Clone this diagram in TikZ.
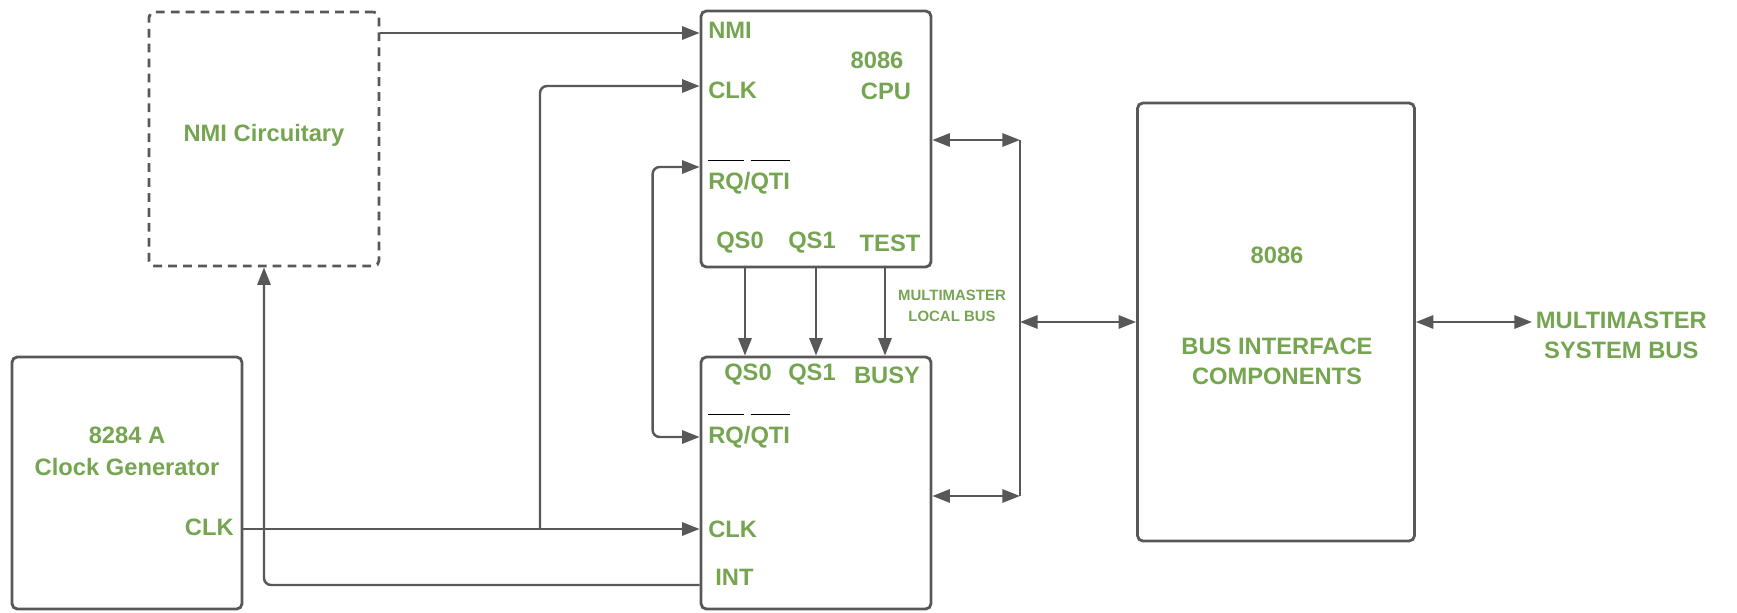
\documentclass[tikz,border=0pt]{standalone}
\usepackage{fontspec}
\setmainfont{Liberation Sans}
\usetikzlibrary{arrows.meta,positioning}
\definecolor{linegray}{HTML}{585858}
\definecolor{sig}{HTML}{76A552}
% active-low signal: black bar over the name
\newcommand{\ovsig}[1]{\setbox0=\hbox{#1}\rlap{\smash{\color{black}\rule[16pt]{\wd0}{.6pt}}}\box0}
\tikzset{>={Triangle[length=10pt,width=7.5pt]},
  every node/.style={font=\fontsize{13.5}{17}\selectfont\bfseries,text=sig},
  block/.style={draw=linegray,line width=1.6pt,rounded corners=3pt,minimum width=4.6cm},
  dashblock/.style={block,dash pattern=on 5pt off 3.5pt},
  link/.style={draw=linegray,line width=1.4pt},
  pinlbl/.style={inner sep=0pt},
  smalllbl/.style={font=\fontsize{8.5}{12}\selectfont\bfseries}}

\begin{document}
\begin{tikzpicture}[x=.02cm,y=-.02cm]
\useasboundingbox (0,0) rectangle (1737,612);
% blocks
\node[dashblock,minimum height=5.08cm] (nmi) at (264,139) {};
\node[block,minimum height=5.12cm] (cpu) at (816,139) {};
\node[block,minimum height=5.04cm] (cop) at (816,483) {};
\node[block,minimum height=5.04cm] (clkgen) at (127,483) {};
\node[block,minimum width=5.54cm,minimum height=8.76cm] (bic) at (1276,322) {};

% texts
\node (nmitxt) at (264,135) {NMI Circuitary};
\node[pinlbl,anchor=west] (cpunmi) at (708,30) {NMI};
\node (cpunum) at (877,60) {8086};
\node (cpuname) at (886,91) {CPU};
\node[pinlbl,anchor=west] (cpuclk) at (708,90) {CLK};
\node[pinlbl,anchor=west] (cpurq) at (708,183) {\ovsig{RQ}/\ovsig{QTI}};
\node (cpuqs0) at (740,243) {QS0};
\node (cpuqs1) at (812,243) {QS1};
\node (cputest) at (890,243) {TEST};

\node (copqs0) at (748,375) {QS0};
\node (copqs1) at (812,375) {QS1};
\node (copbusy) at (887,375) {BUSY};
\node[pinlbl,anchor=west] (coprq) at (708,437) {\ovsig{RQ}/\ovsig{QTI}};
\node[pinlbl,anchor=west] (copclk) at (708,529) {CLK};
\node[pinlbl,anchor=west] (copint) at (715,577) {INT};

\node (gennum) at (127,435) {8284 A};
\node (genname) at (127,467) {Clock Generator};
\node[pinlbl,anchor=east] (genclk) at (234,527) {CLK};

\node (bicnum) at (1277,255) {8086};
\node[align=center] (bicname) at (1277,361) {BUS INTERFACE\\COMPONENTS};

\node[smalllbl,align=center] (localbus) at (952,306) {MULTIMASTER\\LOCAL BUS};
\node[align=center,anchor=west,inner sep=2pt] (sysbus) at (1532,335) {MULTIMASTER\\SYSTEM BUS};

% connectors
\draw[link,->] (nmi.east |- 0,33) -- (cpu.west |- 0,33);
\coordinate (split) at (540,529);
\draw[link] (clkgen.east |- split) -- (split);
\draw[link,->] (split) -- (cop.west |- split);
\draw[link,->,rounded corners=4pt] (split) |- (cpu.west |- 0,86);
\draw[link,<->,rounded corners=4pt] (cpu.west |- 0,167) -- ++(-47,0) |- (cop.west |- 0,437);
\draw[link,->,rounded corners=4pt] (cop.west |- 0,585) -| (nmi.south);
\foreach \x in {745,816,885}
  \draw[link,->] (cpu.south -| \x,0) -- (cop.north -| \x,0);

\coordinate (bustop) at (1020,140);
\coordinate (busbot) at (1020,496);
\draw[link,<->] (cpu.east |- bustop) -- (bustop);
\draw[link,<->] (cop.east |- busbot) -- (busbot);
\draw[link] (bustop) -- (busbot);
\draw[link,<->] (bustop |- bic.west) -- (bic.west);
\draw[link,<->] (bic.east) -- (sysbus.west |- bic.east);
\end{tikzpicture}
\end{document}
